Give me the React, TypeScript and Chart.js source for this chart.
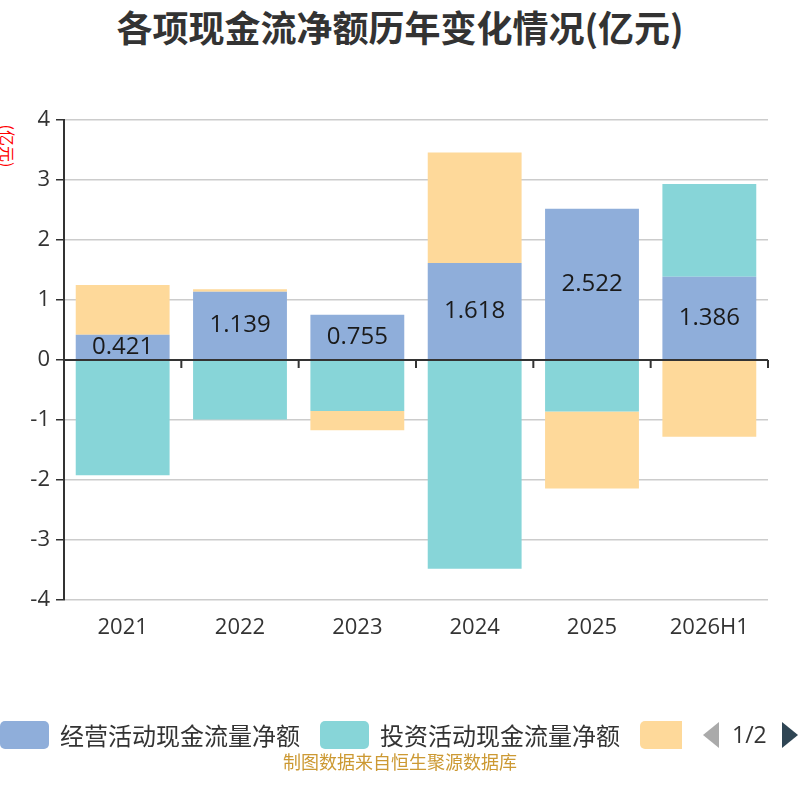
import { useEffect, useRef } from 'react';
import { Chart, registerables, Plugin } from 'chart.js';

Chart.register(...registerables);

const years = ['2021', '2022', '2023', '2024', '2025', '2026H1'];
const operating = [0.421, 1.139, 0.755, 1.618, 2.522, 1.386];
const investing = [-1.92, -0.99, -0.85, -3.48, -0.86, 1.547];
const financing = [0.83, 0.04, -0.32, 1.84, -1.28, -1.28];
const seriesNames = ['经营活动现金流量净额', '投资活动现金流量净额', '筹资活动现金流量净额'];
const colors = ['#8faeda', '#87d5d8', '#fed99a'];
const yTicks = [-4, -3, -2, -1, 0, 1, 2, 3, 4];

const numFont = '"Open Sans", "Noto Sans CJK SC", sans-serif';
const cjkFont = '"Noto Sans CJK SC", sans-serif';

// zero axis line with ticks between categories, plus labels on the operating bars
const zeroAxis: Plugin<'bar'> = {
  id: 'zeroAxis',
  afterDatasetsDraw(chart) {
    const { ctx, chartArea, scales } = chart;
    const x = scales.x;
    const y = scales.y;
    const y0 = y.getPixelForValue(0);
    const half = (x.getPixelForValue(1) - x.getPixelForValue(0)) / 2;
    ctx.save();
    ctx.strokeStyle = '#333';
    ctx.lineWidth = 2;
    ctx.beginPath();
    ctx.moveTo(chartArea.left, y0);
    ctx.lineTo(chartArea.right, y0);
    for (let i = 0; i <= years.length; i++) {
      const px = x.getPixelForValue(i) - half;
      ctx.moveTo(px, y0);
      ctx.lineTo(px, y0 + 8);
    }
    ctx.stroke();

    const meta = chart.getDatasetMeta(0);
    ctx.fillStyle = '#1a1a1a';
    ctx.font = `24px ${numFont}`;
    ctx.textAlign = 'center';
    ctx.textBaseline = 'middle';
    meta.data.forEach((el: any, i) => {
      const { x: bx, y: by, base } = el.getProps(['x', 'y', 'base'], true);
      ctx.fillText(operating[i].toFixed(3), bx, (by + base) / 2);
    });
    ctx.restore();
  },
};

const ChartBox = () => {
  const canvasRef = useRef<HTMLCanvasElement>(null);

  useEffect(() => {
    if (!canvasRef.current) return;
    const chart = new Chart(canvasRef.current, {
      type: 'bar',
      data: {
        labels: years,
        datasets: [operating, investing, financing].map((d, i) => ({
          label: seriesNames[i],
          data: d,
          backgroundColor: colors[i],
          borderWidth: 0,
          categoryPercentage: 0.8,
          barPercentage: 1,
        })),
      },
      options: {
        animation: false,
        responsive: false,
        layout: { padding: { top: 120, right: 32, bottom: 140, left: 0 } },
        plugins: {
          legend: { display: false },
          tooltip: { enabled: false },
          title: { display: false },
        },
        scales: {
          x: {
            stacked: true,
            afterFit: (s) => {
              s.height = 60;
            },
            grid: { display: false },
            border: { display: false },
            ticks: {
              color: '#333',
              font: { size: 22, family: numFont },
              padding: 7,
            },
          },
          y: {
            stacked: true,
            min: -4,
            max: 4,
            afterFit: (s) => {
              s.width = 64;
            },
            afterBuildTicks: (s) => {
              s.ticks = yTicks.map((v) => ({ value: v }));
            },
            grid: { color: '#cccccc', lineWidth: 1.5, tickColor: '#333', tickLength: 8 },
            border: { display: true, color: '#333', width: 2 },
            ticks: {
              color: '#333',
              font: { size: 22, family: numFont },
              padding: 6,
            },
          },
        },
      },
      plugins: [zeroAxis],
    });
    return () => chart.destroy();
  }, []);

  return <canvas ref={canvasRef} width={800} height={800} style={{ position: 'absolute', left: 0, top: 0 }} />;
};

const LegendItem = ({ i, left }: { i: number; left: number }) => (
  <div style={{ position: 'absolute', left, top: 721, display: 'flex', alignItems: 'center', whiteSpace: 'nowrap' }}>
    <div style={{ width: 49, height: 28, borderRadius: 5, background: colors[i] }} />
    <span style={{ marginLeft: 11, fontSize: 24, color: '#333', fontFamily: cjkFont, lineHeight: '28px' }}>
      {seriesNames[i]}
    </span>
  </div>
);

export default function App() {
  return (
    <div style={{ position: 'absolute', left: 0, top: 0, width: 800, height: 800, overflow: 'hidden', background: '#fff' }}>
      <div
        style={{
          position: 'absolute',
          top: 0,
          width: 800,
          textAlign: 'center',
          fontFamily: cjkFont,
          fontWeight: 'bold',
          fontSize: 36,
          color: '#333',
        }}
      >
        各项现金流净额历年变化情况(亿元)
      </div>
      <div
        style={{
          position: 'absolute',
          left: -14,
          top: 135,
          width: 44,
          height: 22,
          lineHeight: '22px',
          textAlign: 'center',
          transform: 'rotate(90deg)',
          fontSize: 16,
          color: '#ff0000',
          fontFamily: cjkFont,
          whiteSpace: 'nowrap',
        }}
      >
        (亿元)
      </div>
      <ChartBox />
      <div style={{ position: 'absolute', left: 0, top: 0, width: 682, height: 800, overflow: 'hidden' }}>
        <LegendItem i={0} left={0} />
        <LegendItem i={1} left={320} />
        <LegendItem i={2} left={640} />
      </div>
      <div
        style={{
          position: 'absolute',
          left: 703,
          top: 722,
          width: 0,
          height: 0,
          borderTop: '13px solid transparent',
          borderBottom: '13px solid transparent',
          borderRight: '16px solid #aaaaaa',
        }}
      />
      <div
        style={{
          position: 'absolute',
          left: 732,
          top: 719,
          fontSize: 23,
          color: '#333',
          fontFamily: numFont,
          lineHeight: '30px',
        }}
      >
        1/2
      </div>
      <div
        style={{
          position: 'absolute',
          left: 782,
          top: 722,
          width: 0,
          height: 0,
          borderTop: '13px solid transparent',
          borderBottom: '13px solid transparent',
          borderLeft: '16px solid #2f4554',
        }}
      />
      <div
        style={{
          position: 'absolute',
          top: 748,
          width: 800,
          textAlign: 'center',
          fontSize: 18,
          color: '#cc9933',
          fontFamily: cjkFont,
        }}
      >
        制图数据来自恒生聚源数据库
      </div>
    </div>
  );
}
